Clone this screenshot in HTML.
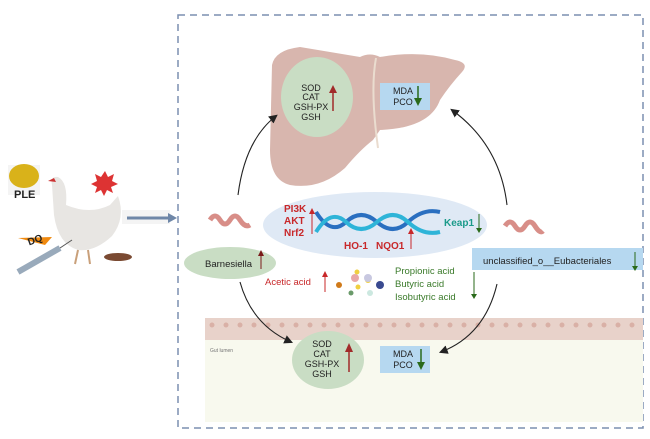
<!DOCTYPE html>
<html><head><style>
body{margin:0;background:#fff;}
svg{display:block;font-family:"Liberation Sans",sans-serif;}
</style></head><body>
<svg width="650" height="439" viewBox="0 0 650 439">
<defs>
<marker id="ab" markerWidth="8" markerHeight="8" refX="6" refY="4" orient="auto"><path d="M0,0 L8,4 L0,8 z" fill="#222"/></marker>
</defs>
<!-- left side: chicken -->
<rect x="8" y="165" width="32" height="30" fill="#f4f4f4"/>
<ellipse cx="24" cy="176" rx="15" ry="12" fill="#d9b21a"/>
<text x="14" y="198" font-size="11" font-weight="bold" fill="#222">PLE</text>
<path d="M52,185 Q50,176 58,177 Q68,182 66,205 Q90,215 110,205 L118,196 Q126,218 112,236 Q95,252 78,250 Q58,244 54,215 Z" fill="#e8e6e3"/>
<path d="M48,181 l6,-3 l2,4 z" fill="#c33"/>
<polygon points="105,171 108,177 114,174 112,181 118,184 111,187 113,193 107,190 104,196 101,190 95,193 97,187 91,184 97,181 95,174 101,177" fill="#d33"/>
<line x1="78" y1="250" x2="75" y2="264" stroke="#c9a07a" stroke-width="2"/>
<line x1="88" y1="250" x2="90" y2="264" stroke="#c9a07a" stroke-width="2"/>
<path d="M18,238 L52,237 L45,245 Z" fill="#f08a10"/>
<text x="28" y="245" font-size="10" font-weight="bold" fill="#222" transform="rotate(-20 30 242)">DQ</text>
<line x1="18" y1="272" x2="60" y2="248" stroke="#9ab" stroke-width="6"/>
<line x1="60" y1="248" x2="72" y2="240" stroke="#555" stroke-width="1"/>
<ellipse cx="118" cy="257" rx="14" ry="4" fill="#7a4a32"/>
<rect x="122" y="210" width="48" height="14" fill="#f4f4f4"/>
<line x1="127" y1="218" x2="168" y2="218" stroke="#6f87a8" stroke-width="3"/>
<path d="M168,213 L177,218 L168,223 Z" fill="#6f87a8"/>
<!-- dashed frame -->
<rect x="178" y="15" width="465" height="413" fill="none" stroke="#7b8fb0" stroke-width="1.5" stroke-dasharray="7,5"/>
<!-- gut -->
<rect x="205" y="340" width="438" height="82" fill="#f8f9ee"/>
<rect x="205" y="318" width="438" height="22" fill="#e8d2ca"/>
<g fill="#d9b0a6">
<circle cx="212" cy="325" r="2.5"/><circle cx="226" cy="325" r="2.5"/><circle cx="240" cy="325" r="2.5"/><circle cx="254" cy="325" r="2.5"/><circle cx="268" cy="325" r="2.5"/><circle cx="282" cy="325" r="2.5"/><circle cx="296" cy="325" r="2.5"/><circle cx="310" cy="325" r="2.5"/><circle cx="324" cy="325" r="2.5"/><circle cx="338" cy="325" r="2.5"/><circle cx="352" cy="325" r="2.5"/><circle cx="366" cy="325" r="2.5"/><circle cx="380" cy="325" r="2.5"/><circle cx="394" cy="325" r="2.5"/><circle cx="408" cy="325" r="2.5"/><circle cx="422" cy="325" r="2.5"/><circle cx="436" cy="325" r="2.5"/><circle cx="450" cy="325" r="2.5"/><circle cx="464" cy="325" r="2.5"/><circle cx="478" cy="325" r="2.5"/><circle cx="492" cy="325" r="2.5"/><circle cx="506" cy="325" r="2.5"/><circle cx="520" cy="325" r="2.5"/><circle cx="534" cy="325" r="2.5"/><circle cx="548" cy="325" r="2.5"/><circle cx="562" cy="325" r="2.5"/><circle cx="576" cy="325" r="2.5"/><circle cx="590" cy="325" r="2.5"/><circle cx="604" cy="325" r="2.5"/><circle cx="618" cy="325" r="2.5"/><circle cx="632" cy="325" r="2.5"/>
</g>
<text x="210" y="352" font-size="5" fill="#777">Gut lumen</text>
<ellipse cx="328" cy="360" rx="36" ry="29" fill="#c9ddc4"/>
<g font-size="9" fill="#222" text-anchor="middle"><text x="322" y="347">SOD</text><text x="322" y="357">CAT</text><text x="322" y="367">GSH-PX</text><text x="322" y="377">GSH</text></g>
<line x1="349" y1="372" x2="349" y2="350" stroke="#a12a2a" stroke-width="1.5"/><path d="M345,352 L349,343 L353,352Z" fill="#a12a2a"/>
<rect x="380" y="346" width="50" height="27" fill="#b6d8f0"/>
<g font-size="9" fill="#222" text-anchor="middle"><text x="403" y="357">MDA</text><text x="403" y="368">PCO</text></g>
<line x1="421" y1="349" x2="421" y2="364" stroke="#2a6a1a" stroke-width="1.5"/><path d="M417,362 L421,370 L425,362Z" fill="#2a6a1a"/>
<!-- liver -->
<path d="M272,65 Q275,50 300,47 L360,57 Q370,52 380,57 Q420,50 455,60 Q470,63 462,72 Q450,85 440,100 Q430,128 380,130 L373,140 Q360,150 345,168 Q320,190 290,185 Q270,180 270,150 Z" fill="#d8b6ae"/>
<path d="M376,58 Q370,90 378,148" stroke="#eadccf" stroke-width="2" fill="none"/>
<text x="314" y="64" font-size="7" fill="#a04848">Liver</text>
<ellipse cx="317" cy="97" rx="36" ry="40" fill="#c9ddc4"/>
<g font-size="9" fill="#222" text-anchor="middle"><text x="311" y="91">SOD</text><text x="311" y="100">CAT</text><text x="311" y="110">GSH-PX</text><text x="311" y="120">GSH</text></g>
<line x1="333" y1="111" x2="333" y2="92" stroke="#a12a2a" stroke-width="1.5"/><path d="M329,93 L333,85 L337,93Z" fill="#a12a2a"/>
<rect x="380" y="83" width="50" height="27" fill="#b6d8f0"/>
<g font-size="9" fill="#222" text-anchor="middle"><text x="403" y="94">MDA</text><text x="403" y="105">PCO</text></g>
<line x1="418" y1="86" x2="418" y2="100" stroke="#2a6a1a" stroke-width="1.5"/><path d="M414,98 L418,106 L422,98Z" fill="#2a6a1a"/>
<!-- circle arrows -->
<g fill="none" stroke="#222" stroke-width="1.1" marker-end="url(#ab)">
<path d="M238,195 Q245,140 276,116"/>
<path d="M507,205 Q500,145 452,110"/>
<path d="M240,282 Q252,325 291,342"/>
<path d="M497,284 Q485,335 441,352"/>
</g>
<!-- DNA ellipse -->
<ellipse cx="375" cy="225" rx="112" ry="33" fill="#dfe9f5"/>
<g fill="none" stroke-width="4">
<path d="M316,212 Q331,236 346,222 T377,222 T408,222 T440,212" stroke="#2a6fc0"/>
<path d="M316,232 Q331,208 346,222 T377,222 T408,222 T440,232" stroke="#2eb4d8"/>
</g>
<g font-size="10" font-weight="bold" fill="#c8282a"><text x="284" y="212">PI3K</text><text x="284" y="224">AKT</text><text x="284" y="236">Nrf2</text><text x="344" y="249">HO-1</text><text x="376" y="249">NQO1</text></g>
<line x1="312" y1="234" x2="312" y2="212" stroke="#c8282a" stroke-width="1"/><path d="M309,214 L312,208 L315,214Z" fill="#c8282a"/>
<line x1="411" y1="249" x2="411" y2="232" stroke="#c8282a" stroke-width="1"/><path d="M408,234 L411,228 L414,234Z" fill="#c8282a"/>
<text x="444" y="226" font-size="10" font-weight="bold" fill="#1a9a8a">Keap1</text>
<line x1="479" y1="214" x2="479" y2="230" stroke="#2a6a1a" stroke-width="1"/><path d="M476,228 L479,233 L482,228Z" fill="#2a6a1a"/>
<!-- intestines -->
<path d="M210,220 q5,-8 10,0 t10,0 t10,0 t10,5" stroke="#d88e88" stroke-width="5" fill="none"/>
<path d="M505,226 q5,-8 10,0 t10,0 t10,0 t8,5" stroke="#d88e88" stroke-width="5" fill="none"/>
<!-- Barnesiella -->
<ellipse cx="230" cy="263" rx="46" ry="16" fill="#c9ddc4"/>
<text x="205" y="267" font-size="9.5" fill="#222">Barnesiella</text>
<line x1="261" y1="269" x2="261" y2="254" stroke="#7a1a1a" stroke-width="1"/><path d="M258,256 L261,250 L264,256Z" fill="#7a1a1a"/>
<!-- Eubacteriales -->
<rect x="472" y="248" width="171" height="22" fill="#b6d8f0"/>
<text x="483" y="264" font-size="9.5" fill="#222">unclassified_o__Eubacteriales</text>
<line x1="635" y1="252" x2="635" y2="268" stroke="#2a6a1a" stroke-width="1"/><path d="M632,266 L635,271 L638,266Z" fill="#2a6a1a"/>
<!-- acids -->
<text x="265" y="285" font-size="9.5" fill="#c8282a">Acetic acid</text>
<line x1="325" y1="292" x2="325" y2="275" stroke="#c8282a" stroke-width="1"/><path d="M322,277 L325,271 L328,277Z" fill="#c8282a"/>
<circle cx="339" cy="285" r="3" fill="#d07a1a"/><circle cx="355" cy="278" r="4" fill="#e8a8a8"/><circle cx="357" cy="272" r="2.5" fill="#f0d040"/><circle cx="368" cy="280" r="3" fill="#f0d040"/><circle cx="368" cy="278" r="4" fill="#c8c8e0"/><circle cx="380" cy="285" r="4" fill="#3a4a90"/><circle cx="351" cy="293" r="2.5" fill="#6a9a6a"/><circle cx="370" cy="293" r="3" fill="#cce8e0"/><circle cx="358" cy="287" r="2.5" fill="#f0d040"/>
<g font-size="9.5" fill="#3a7a2a"><text x="395" y="274">Propionic acid</text><text x="395" y="287">Butyric acid</text><text x="395" y="300">Isobutyric acid</text></g>
<line x1="474" y1="272" x2="474" y2="295" stroke="#2a6a1a" stroke-width="1"/><path d="M471,294 L474,299 L477,294Z" fill="#2a6a1a"/>
</svg>
</body></html>
